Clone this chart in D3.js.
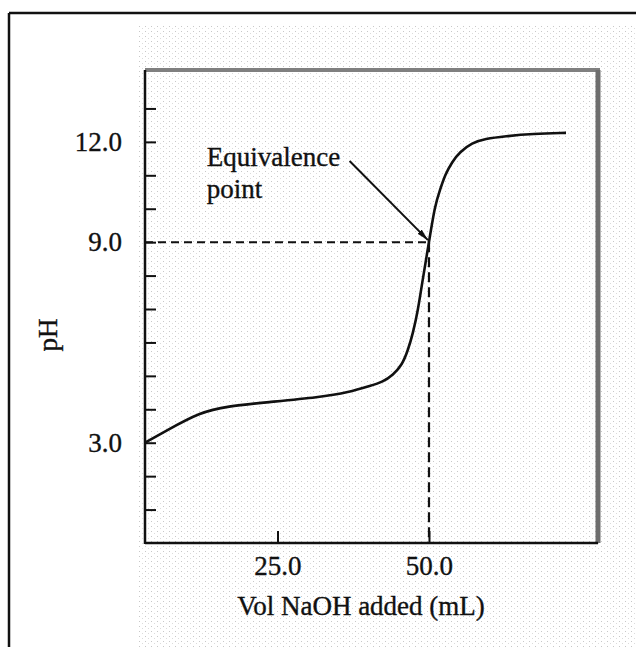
<!DOCTYPE html>
<html>
<head>
<meta charset="utf-8">
<script src="https://cdn.jsdelivr.net/npm/d3@7"></script>
<style>
  html, body { margin: 0; padding: 0; background: #fff; }
  svg { display: block; }
  text { font-family: "Liberation Serif", "Times New Roman", serif; fill: #111; stroke: #111; stroke-width: 0.35px; }
</style>
</head>
<body>
<svg id="chart" width="636" height="647"></svg>
<script>
// ---- data ----
const volumeAdded = [3.14, 6.77, 12.22, 16.67, 23.27, 32.02, 36.80, 40.27, 42.41, 44.06, 45.55, 46.54, 47.36, 48.19, 48.85, 50.0, 50.99, 51.82, 52.64, 53.80, 55.12, 57.10, 59.24, 62.54, 67.17, 72.61];
const pHValues    = [3.0, 3.37, 3.91, 4.09, 4.21, 4.36, 4.51, 4.70, 4.82, 5.03, 5.32, 5.77, 6.28, 6.97, 7.76, 9.0, 10.11, 10.56, 11.01, 11.40, 11.70, 11.97, 12.09, 12.17, 12.24, 12.27];
const xTickValues = [25, 50];
const xTickLabels = ["25.0", "50.0"];
const yMinorTicks = [1, 2, 3, 4, 5, 6, 7, 8, 9, 10, 11, 12, 13];
const yTickValues = [3, 9, 12];
const yTickLabels = ["3.0", "9.0", "12.0"];
const equivalence = { vol: 50.0, pH: 9.0 };
const annotationLines = ["Equivalence", "point"];
const annotationAnchor = { vol: 13.35, pH: 11.28 };
const arrowStart = { vol: 36.9, pH: 11.43 };
const xTitle = "Vol NaOH added (mL)";
const yTitle = "pH";
const xDomain = [3.14, 77.89];
const yDomain = [0, 14.15];

(function () {
// ---- layout ----
const svg = d3.select("#chart");
const L = 145, R = 598, T = 70, B = 543;
const FS = 27;

const x = d3.scaleLinear().domain(xDomain).range([L, R]);
const y = d3.scaleLinear().domain(yDomain).range([B, T]);

// speckle texture like the scanned original
const defs = svg.append("defs");
const pat = defs.append("pattern").attr("id", "speckle").attr("patternUnits", "userSpaceOnUse")
  .attr("width", 6).attr("height", 5);
pat.append("rect").attr("width", 6).attr("height", 5).attr("fill", "#fff");
pat.append("rect").attr("x", 1).attr("y", 1).attr("width", 1).attr("height", 1).attr("fill", "#c8c8c8");
pat.append("rect").attr("x", 4).attr("y", 3).attr("width", 1).attr("height", 1).attr("fill", "#dcdcdc");

defs.append("marker").attr("id", "arrow").attr("viewBox", "0 0 12 6")
  .attr("refX", 12).attr("refY", 3).attr("markerWidth", 12).attr("markerHeight", 6)
  .attr("markerUnits", "userSpaceOnUse").attr("orient", "auto")
  .append("path").attr("d", "M0,0 L12,3 L0,6 Z").attr("fill", "#111");

svg.append("rect").attr("x", 138).attr("y", 24).attr("width", 636 - 138).attr("height", 647 - 24)
  .attr("fill", "url(#speckle)");

// outer frame (top and left edges visible)
svg.append("line").attr("x1", 9).attr("x2", 636).attr("y1", 13).attr("y2", 13)
  .attr("stroke", "#111").attr("stroke-width", 2.5);
svg.append("line").attr("x1", 9).attr("x2", 9).attr("y1", 13).attr("y2", 647)
  .attr("stroke", "#111").attr("stroke-width", 2.5);

// gray top & right borders
svg.append("line").attr("x1", L).attr("x2", R + 2).attr("y1", T).attr("y2", T)
  .attr("stroke", "#808080").attr("stroke-width", 4);
svg.append("line").attr("x1", R).attr("x2", R).attr("y1", T).attr("y2", B)
  .attr("stroke", "#6e6e6e").attr("stroke-width", 5);

// dashed guides to the equivalence point
svg.append("line")
  .attr("x1", x(xDomain[0])).attr("x2", x(equivalence.vol))
  .attr("y1", y(equivalence.pH)).attr("y2", y(equivalence.pH))
  .attr("stroke", "#111").attr("stroke-width", 2).attr("stroke-dasharray", "8,5");
svg.append("line")
  .attr("x1", x(equivalence.vol)).attr("x2", x(equivalence.vol))
  .attr("y1", y(equivalence.pH)).attr("y2", y(0))
  .attr("stroke", "#111").attr("stroke-width", 2.2).attr("stroke-dasharray", "10,5");

// axes: minor ticks (inward)
const yMinor = d3.axisLeft(y).tickValues(yMinorTicks).tickSize(-11).tickFormat("");
const gYm = svg.append("g").attr("transform", `translate(${L},0)`).call(yMinor);
gYm.select(".domain").remove();
gYm.selectAll(".tick line").attr("stroke", "#111").attr("stroke-width", 2);

const yLab = d3.axisLeft(y).tickValues(yTickValues).tickSize(0).tickPadding(23)
  .tickFormat((d, i) => yTickLabels[i]);
const gY = svg.append("g").attr("transform", `translate(${L},0)`).call(yLab);
gY.select(".domain").remove();
gY.selectAll("text").style("font-family", '"Liberation Serif", serif').style("font-size", FS + "px")
  .attr("fill", "#111").attr("stroke", "#111").attr("stroke-width", 0.35);

const xAx = d3.axisBottom(x).tickValues(xTickValues).tickSize(-12).tickPadding(13)
  .tickFormat((d, i) => xTickLabels[i]);
const gX = svg.append("g").attr("transform", `translate(0,${B})`).call(xAx);
gX.select(".domain").remove();
gX.selectAll(".tick line").attr("stroke", "#111").attr("stroke-width", 2);
gX.selectAll("text").style("font-family", '"Liberation Serif", serif').style("font-size", FS + "px")
  .attr("fill", "#111").attr("stroke", "#111").attr("stroke-width", 0.35);

// axis lines
svg.append("line").attr("x1", L).attr("x2", R).attr("y1", B).attr("y2", B)
  .attr("stroke", "#111").attr("stroke-width", 2.5);
svg.append("line").attr("x1", L).attr("x2", L).attr("y1", T).attr("y2", B + 1)
  .attr("stroke", "#111").attr("stroke-width", 2.5);

// titration curve
const pts = volumeAdded.map((v, i) => [v, pHValues[i]]);
svg.append("path").datum(pts)
  .attr("fill", "none").attr("stroke", "#111").attr("stroke-width", 2.6)
  .attr("d", d3.line().x(d => x(d[0])).y(d => y(d[1])).curve(d3.curveBasis));

// annotation
const ann = svg.append("text").attr("x", x(annotationAnchor.vol)).attr("y", y(annotationAnchor.pH))
  .style("font-size", FS + "px");
annotationLines.forEach((t, i) => {
  ann.append("tspan").attr("x", x(annotationAnchor.vol)).attr("dy", i === 0 ? 0 : 32).text(t);
});
svg.append("line")
  .attr("x1", x(arrowStart.vol)).attr("y1", y(arrowStart.pH))
  .attr("x2", x(equivalence.vol) - 1).attr("y2", y(equivalence.pH) - 2)
  .attr("stroke", "#111").attr("stroke-width", 2).attr("marker-end", "url(#arrow)");

// axis titles
svg.append("text").attr("x", 361).attr("y", 615).attr("text-anchor", "middle")
  .style("font-size", FS + "px").text(xTitle);
svg.append("text").attr("transform", "translate(57,335) rotate(-90)").attr("text-anchor", "middle")
  .style("font-size", FS + "px").text(yTitle);
})();
</script>
</body>
</html>
